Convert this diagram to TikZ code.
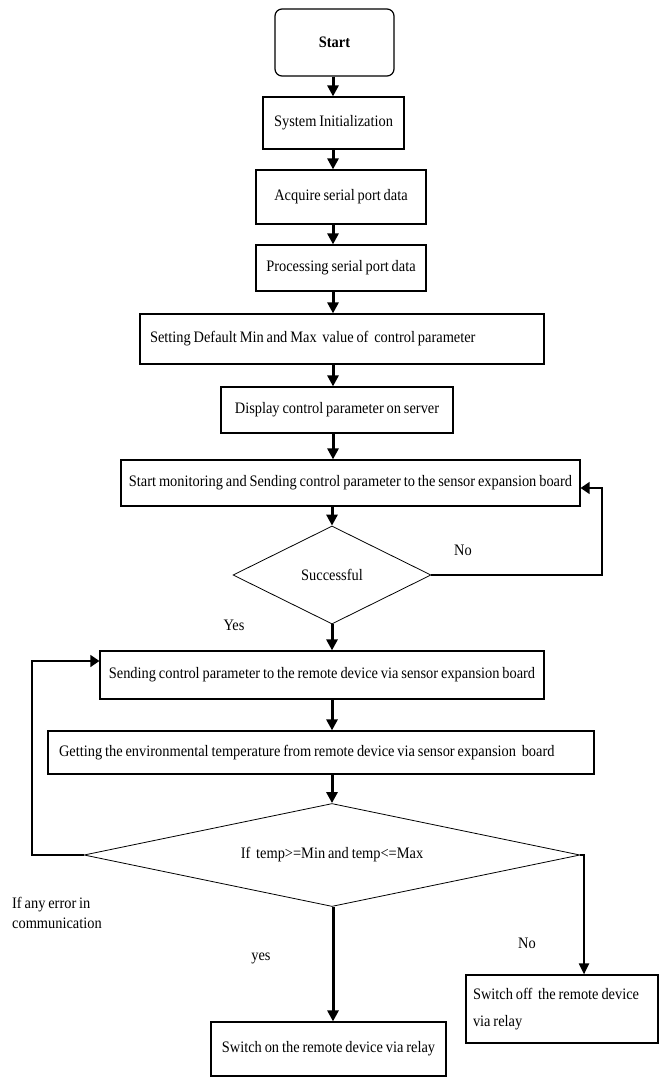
\documentclass[tikz,border=0pt]{standalone}
\usepackage{fontspec}
\setmainfont{Liberation Serif}[FakeStretch=0.9, WordSpace=0.8]
\usetikzlibrary{shapes.geometric, arrows.meta}

\begin{document}
\begin{tikzpicture}[x=1pt, y=-1pt,
        font=\fontsize{16}{19}\selectfont,
        process/.style={rectangle, draw=black, line width=1.2pt, inner sep=0pt, align=center},
        decision/.style={diamond, draw=black, line width=0.8pt, inner sep=0pt},
        arrow/.style={-{Triangle[length=11pt, width=11pt]}, line width=3pt},
        loopline/.style={-{Triangle[length=9pt, width=12pt]}, line width=1.4pt},
        note/.style={inner sep=0pt, align=flush left}
    ]
        \useasboundingbox (0,0) rectangle (659,1078);
        \coordinate (flow) at (333,0);

        % Setup
        \node[process, rounded corners=7pt, minimum width=119pt, minimum height=67pt, font=\fontsize{16}{19}\selectfont\bfseries] (start) at (334.5,42.5) {Start};
        \node[process, minimum width=141pt, minimum height=52pt] (init) at (333.5,123) {System Initialization};
        \node[process, minimum width=170pt, minimum height=54pt] (acq) at (341,197) {Acquire serial port data};
        \node[process, minimum width=170pt, minimum height=46pt] (proc) at (341,268) {Processing serial port data};
        \node[process, text width=384pt, inner xsep=10pt, align=flush left, minimum height=50pt] (setting) at (342,339) {Setting Default Min and Max\ \ value of\ \ control parameter};
        \node[process, minimum width=232pt, minimum height=46pt] (display) at (337,410) {Display control parameter on server};
        \node[process, minimum width=459pt, minimum height=46pt] (monitor) at (350.5,483) {Start monitoring and Sending control parameter to the sensor expansion board};

        % First check
        \node[decision, aspect=2, minimum width=198pt, minimum height=98pt] (dec1) at (332,575) {Successful};
        \node[note] (no1) at (463,550) {No};
        \node[note] (yes1) at (234,625) {Yes};

        % Remote device
        \node[process, minimum width=444pt, minimum height=48pt] (send) at (322,675) {Sending control parameter to the remote device via sensor expansion board};
        \node[process, text width=524pt, inner xsep=11pt, align=flush left, minimum height=43pt] (getting) at (321,752.5) {Getting the environmental temperature from remote device via sensor expansion\ \ board};

        % Second check
        \node[decision, aspect=4.8, minimum width=496pt, minimum height=103pt] (dec2) at (332,855) {If\ \ temp>=Min and temp<=Max};
        \node[note, anchor=west, font=\fontsize{16}{20}\selectfont] (err) at (12,913) {If any error in\\communication};
        \node[note] (yes2) at (261,958) {yes};
        \node[note] (no2) at (527,943) {No};
        \node[process, minimum width=235pt, minimum height=54pt] (on) at (328.5,1049) {Switch on the remote device via relay};
        \node[process, text width=178pt, inner xsep=7pt, align=flush left, minimum height=68pt, font=\fontsize{16}{27}\selectfont] (off) at (562,1009) {Switch off\ \ the remote device\\via relay};

        % Arrows
        \draw[arrow] (start.south -| flow) -- (init.north -| flow);
        \draw[arrow] (init.south -| flow) -- (acq.north -| flow);
        \draw[arrow] (acq.south -| flow) -- (proc.north -| flow);
        \draw[arrow] (proc.south -| flow) -- (setting.north -| flow);
        \draw[arrow] (setting.south -| flow) -- (display.north -| flow);
        \draw[arrow] (display.south -| flow) -- (monitor.north -| flow);
        \draw[arrow] (monitor.south -| dec1) -- (dec1.north);
        \draw[arrow] (dec1.south) -- (send.north -| dec1);
        \draw[arrow] (send.south -| dec1) -- (getting.north -| dec1);
        \draw[arrow] (getting.south -| dec1) -- (dec2.north);
        \draw[arrow] (dec2.south -| flow) -- (on.north -| flow);

        % Loops
        \coordinate (noturn) at (602,488);
        \draw[loopline] (dec1.east) -| (noturn) -- (noturn -| monitor.east);
        \coordinate (errturn) at (32,661);
        \draw[loopline] (dec2.west) -| (errturn) -- (errturn -| send.west);
        \coordinate (offturn) at (584,855);
        \draw[-{Triangle[length=11pt, width=10pt]}, line width=2pt] (dec2.east) -- (offturn) -- (offturn |- off.north);
    \end{tikzpicture}
\end{document}
